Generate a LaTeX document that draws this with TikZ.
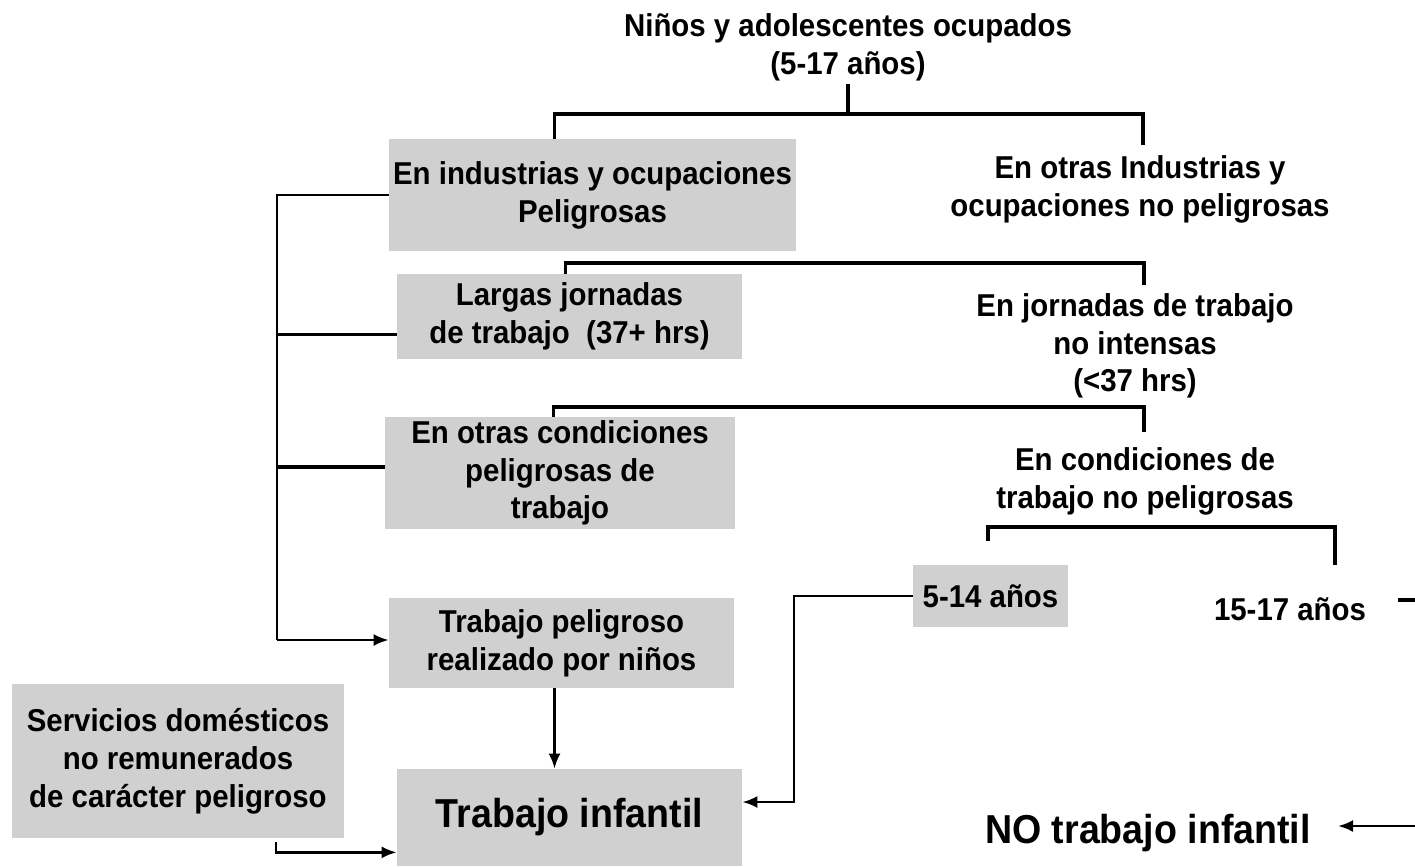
\documentclass[tikz,border=0pt]{standalone}
\usepackage{fontspec}
\setmainfont[FakeStretch=0.93]{Liberation Sans}
\usetikzlibrary{calc,arrows.meta}
\definecolor{boxgray}{RGB}{208,208,208}
\tikzstyle{annot}=[align=center, inner sep=2pt, font=\fontsize{18}{21.5}\selectfont\bfseries]
\tikzstyle{big}=[annot, font=\fontsize{23}{26}\selectfont\bfseries]
\tikzstyle{box}=[rectangle, fill=boxgray, anchor=center]
\tikzstyle{bracket}=[line width=2pt]
\tikzstyle{conn}=[line width=1.5pt]
\tikzstyle{arr}=[conn, -{Latex[length=0.3cm,width=0.24cm]}]

\begin{document}
\begin{tikzpicture}[x=0.02cm, y=-0.02cm]
	\useasboundingbox (0,0) rectangle (1415,866);

	% boxes on the left
	\node[box, annot, minimum width=8.14cm, minimum height=2.24cm] (b1) at (592.5,195) {En industrias y ocupaciones\\Peligrosas};
	\node[box, annot, minimum width=6.9cm, minimum height=1.7cm] (b2) at (569.5,316.5) {Largas jornadas\\de trabajo \ (37+ hrs)};
	\node[box, annot, minimum width=7.0cm, minimum height=2.16cm] (b3) at (560,473) {En otras condiciones\\peligrosas de\\trabajo};
	\node[box, annot, minimum width=6.9cm, minimum height=1.8cm] (b4) at (561.5,643) {Trabajo peligroso\\realizado por niños};
	\node[box, annot, minimum width=6.64cm, minimum height=3.08cm] (b5) at (178,761) {Servicios domésticos\\no remunerados\\de carácter peligroso};
	\node[box, big, minimum width=6.9cm, minimum height=1.94cm] (b6) at (569.5,817.5) {Trabajo infantil};
	\node[box, annot, minimum width=3.1cm, minimum height=1.24cm] (b7) at (990.5,596) {5-14 años};

	% plain labels
	\node[annot] (title) at (848,47) {Niños y adolescentes ocupados\\(5-17 años)};
	\node[annot] (otras) at (1140,189) {En otras Industrias y\\ocupaciones no peligrosas};
	\node[annot] (jorn) at (1135,346) {En jornadas de trabajo\\no intensas\\(<37 hrs)};
	\node[annot] (cond) at (1145,481) {En condiciones de\\trabajo no peligrosas};
	\node[annot] (mayor) at (1290,609) {15-17 años};
	\node[big] (no) at (1148,833) {NO trabajo infantil};

	% brackets of the tree
	\coordinate (t1) at (848,114);
	\draw[bracket] (title.south) -- (t1);
	\draw[bracket] ($(b1.north west)+(166,0)$) |- (t1) -| (1143,145);
	\draw[bracket] ($(b2.north west)+(169,0)$) |- (1144,263) -- (1144,285);
	\draw[bracket] ($(b3.north west)+(169,0)$) |- (1144,407) -- (1144,432);
	\draw[bracket] (988,541) |- (1335,527) -- (1335,565);
	\coordinate (m1) at (1398,600);
	\coordinate (m2) at (1415,600);
	\draw[bracket] (m1) -- (m2);

	% left collector
	\coordinate (lb) at (277,640);
	\draw[conn] (b1.west) -| (lb);
	\draw[bracket] ($(b2.south west)+(0,-25)$) -- ++(-120,0);
	\draw[bracket] ($(b3.west)+(0,-6)$) -- ++(-108,0);
	\draw[arr] (lb) -- (lb -| b4.west);

	% arrows into Trabajo infantil
	\coordinate (d4) at ($(b4.south)+(-7,0)$);
	\draw[arr] (d4) -- (d4 |- b6.north);
	\coordinate (k) at (794,802);
	\draw[arr] (b7.west) -| (k) -- (k -| b6.east);
	\coordinate (s5) at (276,842);
	\draw[arr] (s5) |- ($(b6.south west)+(0,-14)$);
	\coordinate (ne) at (1415,826);
	\coordinate (nt) at (1338,826);
	\draw[arr] (ne) -- (nt);

\end{tikzpicture}
\end{document}
